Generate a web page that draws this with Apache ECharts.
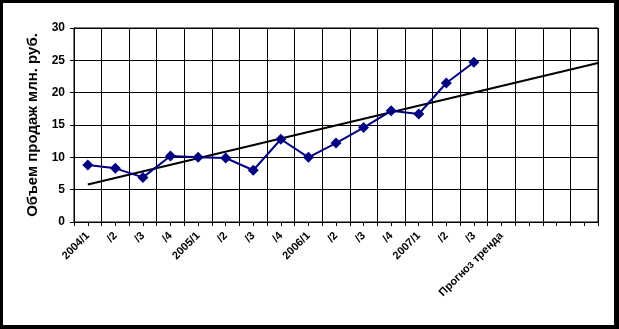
<!DOCTYPE html>
<html><head><meta charset="utf-8">
<script src="https://cdn.jsdelivr.net/npm/echarts@6/dist/echarts.min.js"></script>
<style>
html,body{margin:0;padding:0;background:#000;width:619px;height:329px;overflow:hidden;}
#c{position:absolute;left:3px;top:3px;width:611px;height:322px;background:#fff;}
</style></head><body>
<div id="c"></div>
<script>
const categories = ["2004/1","/2","/3","/4","2005/1","/2","/3","/4","2006/1","/2","/3","/4","2007/1","/2","/3","Прогноз тренда","","",""];
const sales = [8.8, 8.3, 6.9, 10.2, 10.0, 9.9, 8.0, 12.8, 10.0, 12.2, 14.6, 17.2, 16.7, 21.5, 24.7];
const trendX = [0, 18.5];
const trendY = [5.8, 24.6];
const yTicks = [0, 5, 10, 15, 20, 25, 30];
const yName = "Объем продаж млн. руб.";

const chart = echarts.init(document.getElementById('c'), null, {renderer:'canvas'});
const font = '"Liberation Sans", Arial, sans-serif';
chart.setOption({
  animation:false,
  backgroundColor:'#fff',
  grid:{left:71, top:25, right:16, bottom:103, show:true, borderColor:'#000', borderWidth:1},
  xAxis:[{
    type:'category', data:categories, boundaryGap:true,
    axisLine:{show:true, onZero:false, lineStyle:{color:'#000', width:1}},
    axisTick:{show:false},
    splitLine:{show:true, interval:0, lineStyle:{color:'#000', width:1}},
    axisLabel:{interval:0, rotate:45, margin:12, color:'#000', fontFamily:font, fontWeight:'bold', fontSize:11}
  },{
    type:'value', min:-0.5, max:18.5, interval:0.5, position:'bottom',
    axisLine:{show:false, onZero:false}, splitLine:{show:false},
    axisTick:{show:true, length:4, lineStyle:{color:'#000', width:1}},
    axisLabel:{show:false}
  }],
  yAxis:{
    type:'value', min:yTicks[0], max:yTicks[yTicks.length-1], interval:5,
    name:yName, nameLocation:'middle', nameGap:33, nameRotate:90,
    nameTextStyle:{color:'#000', fontFamily:font, fontWeight:'bold', fontSize:15},
    axisLine:{show:true, onZero:false, lineStyle:{color:'#000'}},
    axisTick:{show:true, length:4, lineStyle:{color:'#000'}},
    splitLine:{show:true, lineStyle:{color:'#000', width:1}},
    axisLabel:{color:'#000', fontFamily:font, fontWeight:'bold', fontSize:12, margin:9}
  },
  series:[{
    type:'line', xAxisIndex:1,
    data: trendX.map((x,i)=>[x, trendY[i]]),
    symbol:'none', lineStyle:{color:'#000', width:2}, z:3
  },{
    type:'line', xAxisIndex:0,
    data: sales,
    symbol:'diamond', symbolSize:11,
    itemStyle:{color:'#000080'},
    lineStyle:{color:'#000080', width:2}, z:4
  }]
});
</script>
</body></html>
